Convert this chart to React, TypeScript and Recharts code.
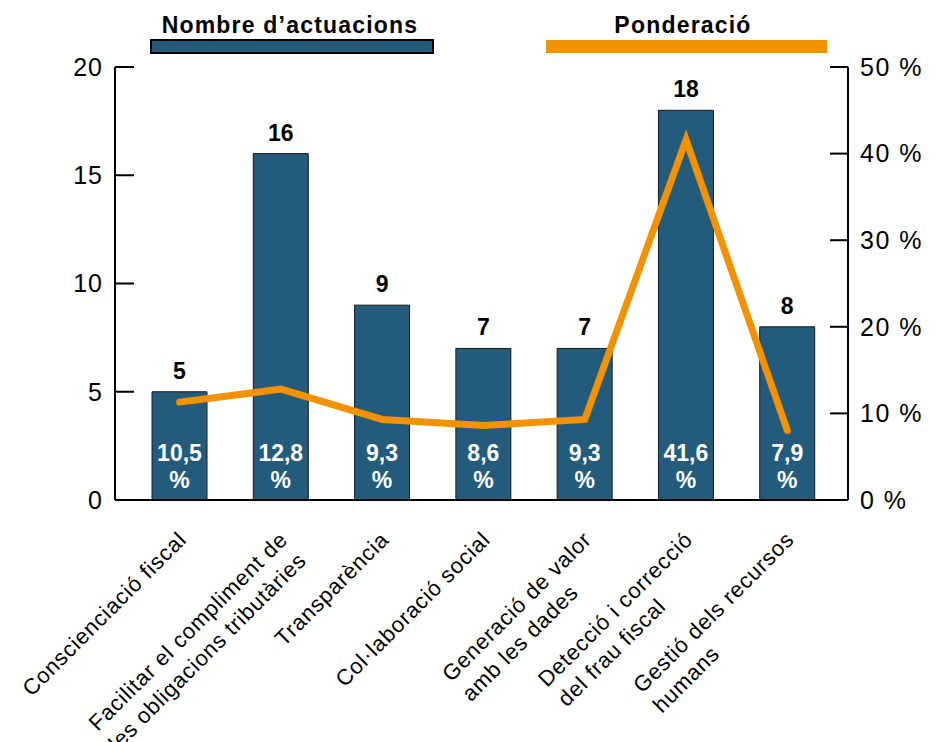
import React from 'react';
import { ComposedChart, Bar, Line, XAxis, YAxis, LabelList } from 'recharts';

const categories = [
  'Conscienciació fiscal',
  'Facilitar el compliment de\nles obligacions tributàries',
  'Transparència',
  'Col·laboració social',
  'Generació de valor\namb les dades',
  'Detecció i correcció\ndel frau fiscal',
  'Gestió dels recursos\nhumans',
];
const actuacions = [5, 16, 9, 7, 7, 18, 8];
// line as plotted in the picture
const ponderacio = [11.3, 12.8, 9.3, 8.6, 9.3, 41.6, 8.0];
// percentages printed inside the bars
const ponderacioText = ['10,5', '12,8', '9,3', '8,6', '9,3', '41,6', '7,9'];
const leftTicks = [0, 5, 10, 15, 20];
const rightTicks = [0, 10, 20, 30, 40, 50];

const FONT = '"Liberation Sans", Arial, Helvetica, sans-serif';
const BLUE = '#245A7A';
const ORANGE = '#F39200';

const data = categories.map((name, i) => ({
  name,
  actuacions: actuacions[i],
  ponderacio: ponderacio[i],
  text: ponderacioText[i],
}));

const LABEL_SIZE = 22;
const LABEL_SPACING = 0.8;

let ctx: CanvasRenderingContext2D | null = null;
const measure = (s: string) => {
  if (!ctx) ctx = document.createElement('canvas').getContext('2d');
  if (!ctx) return s.length * 11;
  ctx.font = `${LABEL_SIZE}px ${FONT}`;
  return ctx.measureText(s).width + s.length * LABEL_SPACING;
};

const CategoryTick = (props: any) => {
  const { x, y, payload } = props;
  const lines = String(payload.value).split('\n');
  const ax = x + 8;
  const ay = y + 41;
  const w0 = measure(lines[0]);
  return (
    <g transform={`rotate(-45, ${ax}, ${ay})`}>
      {lines.map((l, i) => (
        <text
          key={i}
          x={i === 0 ? ax : ax - w0}
          y={ay + i * 28}
          textAnchor={i === 0 ? 'end' : 'start'}
          fontFamily={FONT}
          fontSize={LABEL_SIZE}
          letterSpacing={LABEL_SPACING}
          fill="#000"
        >
          {l}
        </text>
      ))}
    </g>
  );
};

const BarLabels = (props: any) => {
  const vb = props.viewBox && props.viewBox.width != null ? props.viewBox : props;
  const { x, y, width, height } = vb;
  const idx = props.index;
  const cx = x + width / 2;
  const base = y + height;
  return (
    <g fontFamily={FONT} fontWeight="bold" textAnchor="middle">
      <text x={cx} y={y - 13} fontSize={23} fill="#000">
        {props.value}
      </text>
      <text x={cx} y={base - 39} fontSize={23} fill="#fff">
        {data[idx].text}
      </text>
      <text x={cx} y={base - 12} fontSize={23} fill="#fff">
        %
      </text>
    </g>
  );
};

export default function App() {
  return (
    <div style={{ position: 'absolute', left: 0, top: 0, width: 936, height: 742, background: '#fff' }}>
      <ComposedChart
        width={936}
        height={742}
        data={data}
        margin={{ top: 67, right: 0, bottom: 0, left: 0 }}
      >
        <XAxis
          dataKey="name"
          height={242}
          interval={0}
          padding={{ left: 14, right: 10 }}
          axisLine={{ stroke: '#000', strokeWidth: 2 }}
          tickLine={false}
          tickSize={0}
          tickMargin={0}
          tick={<CategoryTick />}
        />
        <YAxis
          yAxisId="left"
          orientation="left"
          width={115}
          domain={[0, 20]}
          ticks={leftTicks}
          interval={0}
          axisLine={{ stroke: '#000', strokeWidth: 2 }}
          tickLine={{ stroke: '#000', strokeWidth: 2 }}
          tickSize={-19}
          tickMargin={31}
          tick={{ fill: '#000', fontSize: 25, fontFamily: FONT, letterSpacing: 1 }}
        />
        <YAxis
          yAxisId="right"
          orientation="right"
          width={88}
          domain={[0, 50]}
          ticks={rightTicks}
          interval={0}
          tickFormatter={(v: number) => `${v} %`}
          axisLine={{ stroke: '#000', strokeWidth: 2 }}
          tickLine={{ stroke: '#000', strokeWidth: 2 }}
          tickSize={-18}
          tickMargin={30}
          tick={{ fill: '#000', fontSize: 25, fontFamily: FONT, textAnchor: 'start', letterSpacing: 1.5 }}
        />
        <Bar
          yAxisId="left"
          dataKey="actuacions"
          fill={BLUE}
          stroke="#1a1a1a"
          strokeWidth={1}
          barSize={55}
          isAnimationActive={false}
        >
          <LabelList dataKey="actuacions" content={<BarLabels />} />
        </Bar>
        <Line
          yAxisId="right"
          dataKey="ponderacio"
          stroke={ORANGE}
          strokeWidth={7}
          strokeLinecap="round"
          dot={false}
          activeDot={false}
          isAnimationActive={false}
        />
      </ComposedChart>
      <svg
        width={936}
        height={742}
        style={{ position: 'absolute', left: 0, top: 0, pointerEvents: 'none' }}
      >
        <text x={290} y={33} textAnchor="middle" fontFamily={FONT} fontWeight="bold" fontSize={23} letterSpacing={1.2}>
          Nombre d’actuacions
        </text>
        <rect x={151} y={40} width={282} height={13} fill={BLUE} stroke="#000" strokeWidth={2} />
        <text x={683} y={33} textAnchor="middle" fontFamily={FONT} fontWeight="bold" fontSize={23} letterSpacing={1.2}>
          Ponderació
        </text>
        <rect x={546} y={40} width={281} height={13} fill={ORANGE} />
      </svg>
    </div>
  );
}
